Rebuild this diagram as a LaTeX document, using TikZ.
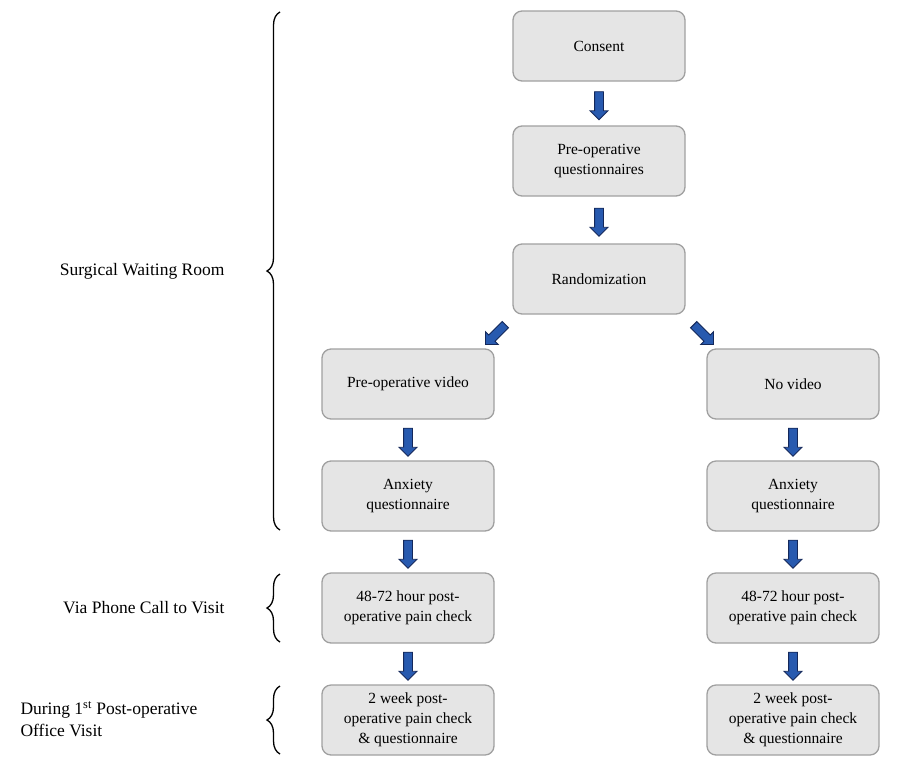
\documentclass[tikz,border=0pt]{standalone}
\usepackage{fontspec}
\setmainfont{Liberation Serif}
\usetikzlibrary{shapes.arrows,decorations.pathreplacing,calc}
\definecolor{boxfill}{RGB}{229,229,229}
\definecolor{boxline}{RGB}{160,160,160}
\definecolor{arrfill}{RGB}{40,90,175}
\definecolor{arrline}{RGB}{20,40,90}
\tikzset{
 box/.style={draw=boxline,line width=1.3pt,fill=boxfill,rounded corners=9pt,minimum width=172pt,minimum height=70pt,align=center,font=\fontsize{15.5}{20}\selectfont},
 barrow/.style={single arrow,draw=arrline,fill=arrfill,line width=0.9pt,minimum height=28pt,inner sep=4pt,single arrow head extend=4.5pt},
 brace/.style={decorate,decoration={brace,amplitude=13pt},line width=1.3pt},
 lab/.style={font=\fontsize{17.5}{22}\selectfont}
}
\begin{document}
\begin{tikzpicture}[x=1pt,y=-1pt]
\useasboundingbox (0,0) rectangle (904,769);
\node[box] (consent) at (599,46) {Consent};
\node[box] (preq) at (599,161) {Pre-operative\\questionnaires};
\node[box] (rand) at (599,279) {Randomization};
\node[box] (video) at (408,384) {Pre-operative video};
\node[box] (novideo) at (793,384) {No video};
\node[box] (anxL) at (408,496) {Anxiety\\questionnaire};
\node[box] (anxR) at (793,496) {Anxiety\\questionnaire};
\node[box] (painL) at (408,608) {48-72 hour post-\\operative pain check};
\node[box] (painR) at (793,608) {48-72 hour post-\\operative pain check};
\node[box] (wkL) at (408,720) {2 week post-\\operative pain check\\\& questionnaire};
\node[box] (wkR) at (793,720) {2 week post-\\operative pain check\\\& questionnaire};
\node[barrow,rotate=-90] (a1) at ($(consent.south)!0.5!(preq.north)$) {};
\node[barrow,rotate=-90] (a2) at ($(preq.south)!0.5!(rand.north)$) {};
\node[barrow,rotate=-135] (a3) at (497,333) {};
\node[barrow,rotate=-45] (a4) at (702,333) {};
\foreach \t/\b [count=\i] in {video/anxL,anxL/painL,painL/wkL,novideo/anxR,anxR/painR,painR/wkR}
  \node[barrow,rotate=-90] (v\i) at ($(\t.south)!0.5!(\b.north)$) {};
\coordinate (b1t) at (280,12); \coordinate (b1b) at (280,530);
\coordinate (b2t) at (280,574); \coordinate (b2b) at (280,642);
\coordinate (b3t) at (280,686); \coordinate (b3b) at (280,754);
\draw[brace] (b1b) -- (b1t);
\draw[brace] (b2b) -- (b2t);
\draw[brace] (b3b) -- (b3t);
\node[lab,anchor=east] (l1) at (228,271) {Surgical Waiting Room};
\node[lab,anchor=east] (l2) at (228,608) {Via Phone Call to Visit};
\node[lab,anchor=west,align=left] (l3) at (17,719) {During 1\textsuperscript{st} Post-operative\\Office Visit};
\end{tikzpicture}
\end{document}
